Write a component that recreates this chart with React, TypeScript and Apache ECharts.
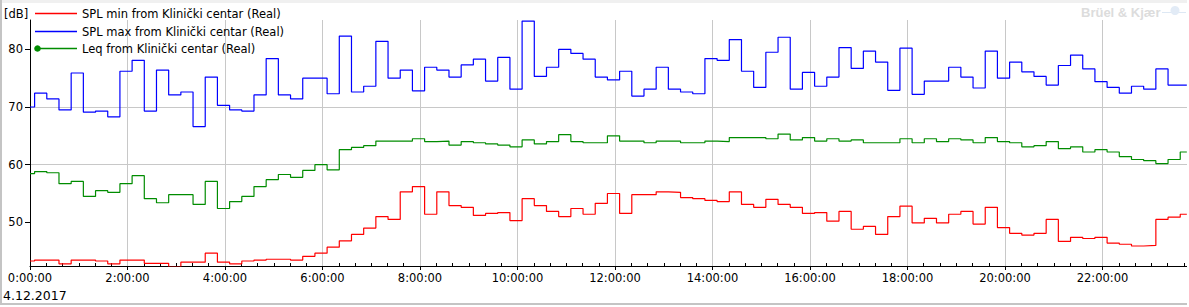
import React, { useEffect, useRef } from "react";
import * as echarts from "echarts";

// 15-minute values, first entry is the partial interval before the first transition
const splMin = [
  43.3, 43.45, 43.45, 42.8, 43.45, 43.45, 43.3, 42.8, 43.45, 43.45, 42.9, 42.9, 42.3, 43.1, 43.1, 44.65,
  43.1, 42.8, 43.3, 43.45, 43.6, 43.6, 43.45, 44.1, 44.65, 45.7, 46.8, 47.9, 49.0, 51.0, 50.5, 55.3,
  56.2, 51.4, 55.3, 52.9, 52.6, 51.2, 51.55, 51.7, 50.3, 54.1, 52.9, 51.9, 51.0, 52.4, 51.4, 53.3,
  55.0, 51.55, 54.8, 54.8, 55.3, 55.2, 54.3, 54.1, 53.8, 53.6, 55.3, 53.1, 52.6, 54.0, 53.1, 52.6,
  51.55, 51.7, 50.2, 51.9, 48.8, 49.3, 47.9, 51.0, 52.8, 49.9, 50.7, 49.9, 51.4, 51.9, 49.7, 52.6,
  49.1, 48.1, 47.8, 48.1, 50.5, 46.7, 47.4, 47.2, 47.4, 46.4, 46.2, 45.9, 46.0, 50.5, 50.9, 51.4,
];
const splMax = [
  70.0, 72.4, 71.4, 69.5, 75.9, 69.1, 69.3, 68.3, 76.2, 78.1, 69.3, 76.4, 72.1, 72.6, 66.6, 75.2,
  70.3, 69.5, 69.3, 72.1, 78.4, 72.1, 71.4, 75.0, 75.0, 72.3, 82.3, 72.6, 73.6, 81.4, 75.0, 76.4,
  72.8, 76.9, 76.4, 75.2, 77.3, 78.3, 74.5, 78.6, 73.1, 84.9, 75.3, 76.9, 80.0, 79.3, 78.3, 75.2,
  74.7, 76.2, 71.9, 73.1, 76.9, 73.1, 72.6, 72.3, 78.4, 78.1, 81.7, 76.2, 73.4, 79.5, 82.1, 73.1,
  76.0, 73.6, 75.2, 80.3, 76.7, 79.7, 77.8, 72.9, 80.2, 72.2, 74.5, 74.5, 76.9, 75.2, 73.3, 79.7,
  75.0, 77.8, 76.1, 75.3, 73.8, 77.2, 79.0, 76.6, 74.4, 73.4, 72.4, 73.6, 73.1, 76.6, 73.8, 73.8,
];
const leq = [
  58.45, 58.8, 58.6, 56.7, 57.1, 54.5, 55.5, 55.2, 56.7, 58.1, 54.1, 53.4, 54.8, 54.8, 53.1, 57.1,
  52.4, 53.6, 54.5, 56.2, 57.4, 58.3, 57.8, 59.0, 60.0, 59.1, 62.6, 63.0, 63.3, 64.1, 64.1, 64.1,
  64.5, 64.0, 64.1, 63.4, 64.0, 63.8, 63.6, 63.4, 63.1, 64.3, 63.6, 64.0, 65.2, 64.0, 63.8, 63.8,
  65.0, 64.1, 64.1, 63.8, 64.1, 64.1, 63.8, 63.8, 64.1, 64.0, 64.7, 64.7, 64.7, 64.5, 65.3, 64.3,
  64.7, 64.1, 64.5, 64.1, 64.3, 63.8, 63.8, 63.8, 64.5, 63.8, 64.5, 64.0, 64.5, 64.3, 63.8, 64.7,
  64.0, 63.8, 63.1, 63.3, 64.0, 62.8, 63.1, 62.2, 62.6, 62.2, 61.4, 60.9, 60.7, 60.2, 60.9, 62.2,
];

const seriesNames = [
  "SPL min from Klinički centar (Real)",
  "SPL max from Klinički centar (Real)",
  "Leq from Klinički centar (Real)",
];
const seriesColors = ["#ff0000", "#0000ff", "#008c00"];
const xTickHours = [0, 2, 4, 6, 8, 10, 12, 14, 16, 18, 20, 22];
const yTickValues = [50, 60, 70, 80];
const dateLabel = "4.12.2017";
const unitLabel = "[dB]";

const FIRST_STEP_MIN = 5.67; // first transition (minutes after 0:00)
const STEP_MIN = 15;
const END_HOUR = 23.73;

function toSeries(values: number[]) {
  const pts: [number, number][] = values.map((v, i) => [
    i === 0 ? 0 : (FIRST_STEP_MIN + STEP_MIN * (i - 1)) / 60,
    v,
  ]);
  pts.push([END_HOUR, values[values.length - 1]]);
  return pts;
}

const FONT = "DejaVu Sans";

export default function App() {
  const ref = useRef<HTMLDivElement>(null);
  useEffect(() => {
    if (!ref.current) return;
    const chart = echarts.init(ref.current, null, { renderer: "svg" });
    const allValues = [splMin, splMax, leq];
    const legendRowsY = [13.5, 31.5, 48.5];
    const graphic: any[] = [
      { type: "rect", z: 0, shape: { x: 0, y: 0, width: 1200, height: 3 }, style: { fill: "#f0f0f0" }, silent: true },
      { type: "line", shape: { x1: 1, y1: 0, x2: 1, y2: 304 }, style: { stroke: "#c4c4c4", lineWidth: 2 }, silent: true },
      { type: "line", shape: { x1: 0, y1: 304, x2: 1200, y2: 304 }, style: { stroke: "#c4c4c4", lineWidth: 2 }, silent: true },
      {
        type: "text",
        x: 4,
        y: 14,
        style: { text: unitLabel, font: `11.5px '${FONT}'`, fill: "#000", verticalAlign: "middle", align: "left" },
      },
      {
        type: "text",
        x: 3,
        y: 295,
        style: { text: dateLabel, font: `12.5px '${FONT}'`, fill: "#000", verticalAlign: "middle", align: "left" },
      },
      {
        type: "text",
        x: 1081,
        y: 12.5,
        style: { text: "Brüel & Kjær", font: "bold 13px 'Liberation Sans'", fill: "#dcdcdc", verticalAlign: "middle", align: "left" },
      },
      { type: "line", shape: { x1: 1162, y1: 12.5, x2: 1186, y2: 12.5 }, style: { stroke: "#dde8f4", lineWidth: 1 } },
      { type: "circle", shape: { cx: 1175, cy: 10.5, r: 4.5 }, style: { fill: "#e2ebf6" } },
    ];
    seriesNames.forEach((name, i) => {
      const y = legendRowsY[i];
      graphic.push({
        type: "line",
        z: 100,
        shape: { x1: 35, y1: y, x2: 77, y2: y },
        style: { stroke: seriesColors[i], lineWidth: 1.4 },
      });
      if (i === 2) {
        graphic.push({
          type: "circle",
          z: 101,
          shape: { cx: 37.5, cy: y, r: 3.3 },
          style: { fill: seriesColors[i] },
        });
      }
      graphic.push({
        type: "text",
        z: 100,
        x: 82,
        y,
        style: { text: name, font: `11.5px '${FONT}'`, fill: "#000", verticalAlign: "middle", align: "left" },
      });
    });

    chart.setOption({
      animation: false,
      backgroundColor: "#ffffff",
      grid: { left: 30, right: 0, top: 20, bottom: 41, containLabel: false },
      xAxis: {
        type: "value",
        min: 0,
        max: 24,
        splitNumber: 12,
        axisLine: { show: true, onZero: false, lineStyle: { color: "#000", width: 1 } },
        axisTick: { show: true, length: 4, customValues: xTickHours, lineStyle: { color: "#000" } },
        minorTick: { show: true, splitNumber: 6, length: -3, lineStyle: { color: "#000" } },
        axisLabel: {
          customValues: xTickHours,
          formatter: (v: number) => `${Math.round(v)}:00:00`,
          fontFamily: FONT,
          fontSize: 11.5,
          color: "#000",
          margin: 6,
        },
        splitLine: { show: true, showMinLine: false, lineStyle: { color: "#c8c8c8", width: 1 } },
      },
      yAxis: {
        type: "value",
        min: 42.43,
        max: 85.09,
        splitNumber: 5,
        axisLine: { show: true, onZero: false, lineStyle: { color: "#000", width: 1 } },
        axisTick: { show: true, length: 5, customValues: yTickValues, lineStyle: { color: "#000" } },
        axisLabel: {
          customValues: yTickValues,
          fontFamily: FONT,
          fontSize: 11.5,
          color: "#000",
          margin: 7,
        },
        splitLine: { show: true, showMinLine: false, showMaxLine: false, lineStyle: { color: "#c8c8c8", width: 1 } },
      },
      series: allValues.map((vals, i) => ({
        name: seriesNames[i],
        type: "line",
        step: "end",
        showSymbol: false,
        symbol: "none",
        clip: true,
        data: toSeries(vals),
        lineStyle: { color: seriesColors[i], width: 1.2 },
        itemStyle: { color: seriesColors[i] },
        z: 3 + i,
      })),
      graphic,
    });
    return () => chart.dispose();
  }, []);

  return (
    <div style={{ position: "fixed", left: 0, top: 0, width: 1187, height: 307, overflow: "hidden", background: "#fff" }}>
      <div ref={ref} style={{ width: 1200, height: 307 }} />
    </div>
  );
}
